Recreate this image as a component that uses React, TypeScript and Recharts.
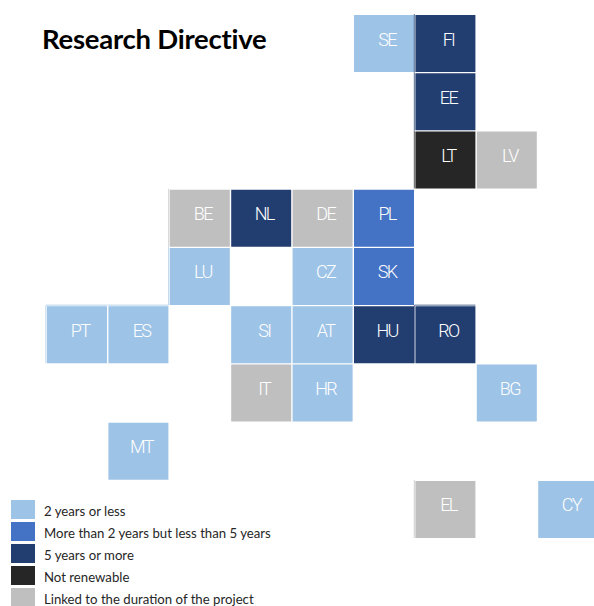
import React from 'react';
import { ScatterChart, Scatter, XAxis, YAxis } from 'recharts';

const title = 'Research Directive';
const lightNames = ['SE', 'LU', 'CZ', 'PT', 'ES', 'SI', 'AT', 'HR', 'BG', 'MT', 'CY'];
const lightCols = [5, 2, 4, 0, 1, 3, 4, 4, 7, 1, 8];
const lightRows = [0, 4, 4, 5, 5, 5, 5, 6, 6, 7, 8];
const mediumNames = ['PL', 'SK'];
const mediumCols = [5, 5];
const mediumRows = [3, 4];
const darkNames = ['FI', 'EE', 'NL', 'HU', 'RO'];
const darkCols = [6, 6, 3, 5, 6];
const darkRows = [0, 1, 3, 5, 5];
const blackNames = ['LT'];
const blackCols = [6];
const blackRows = [2];
const greyNames = ['LV', 'BE', 'DE', 'IT', 'EL'];
const greyCols = [7, 2, 4, 3, 6];
const greyRows = [2, 3, 3, 6, 8];
const leftEdged = ['FI', 'EE', 'LT', 'BE', 'LU', 'PT', 'EL', 'RO'];
const topEdged = ['PT', 'ES', 'RO'];

const zip = (names: string[], cols: number[], rows: number[]) =>
  names.map((name, i) => ({ name, col: cols[i], row: rows[i] }));

const series = [
  { label: '2 years or less', color: '#9DC3E6', data: zip(lightNames, lightCols, lightRows) },
  { label: 'More than 2 years but less than 5 years', color: '#4472C4', data: zip(mediumNames, mediumCols, mediumRows) },
  { label: '5 years or more', color: '#223E70', data: zip(darkNames, darkCols, darkRows) },
  { label: 'Not renewable', color: '#262626', data: zip(blackNames, blackCols, blackRows) },
  { label: 'Linked to the duration of the project', color: '#BFBFBF', data: zip(greyNames, greyCols, greyRows) },
];

const FONT = 'Lato, "Open Sans", sans-serif';
const TILE_FONT = 'Roboto, "Liberation Sans", sans-serif';
const CELL_W = 60;
const CELL_H = 57;

const Tile = (props: any) => {
  const { cx, cy, fill, payload } = props;
  const left = cx - CELL_W / 2;
  const top = cy - CELL_H / 2;
  return (
    <g>
      {leftEdged.includes(payload.name) && (
        <rect x={left - 1.6} y={top - 1} width={1} height={CELL_H + 1} fill={fill} opacity={0.75} />
      )}
      {topEdged.includes(payload.name) && (
        <rect x={left - 1} y={top - 1.6} width={CELL_W + 1} height={1} fill={fill} opacity={0.75} />
      )}
      <rect x={left} y={top} width={CELL_W} height={CELL_H} fill={fill} />
      <text
        x={cx + 3}
        y={cy + 2}
        textAnchor="middle"
        fill="#FFFFFF"
        fontFamily={TILE_FONT}
        fontWeight={300}
        fontSize={18}
        letterSpacing={-1.7}
      >
        {payload.name}
      </text>
    </g>
  );
};

const LegendList = () => (
  <div style={{ position: 'absolute', left: 11, top: 500, fontFamily: FONT, fontSize: 13.2, color: '#262626' }}>
    {series.map((s) => (
      <div key={s.label} style={{ position: 'relative', height: 22, whiteSpace: 'nowrap' }}>
        <span style={{ position: 'absolute', left: 0, top: 0, width: 24, height: 19, background: s.color }} />
        <span style={{ position: 'absolute', left: 33, top: 3 }}>{s.label}</span>
      </div>
    ))}
  </div>
);

export default function App() {
  return (
    <div style={{ position: 'absolute', left: 0, top: 0, width: 594, height: 606, background: '#fff', overflow: 'hidden' }}>
      <ScatterChart width={594} height={606} margin={{ top: 0, right: 0, bottom: 0, left: 0 }}>
        <XAxis type="number" dataKey="col" hide domain={[-1.254, 8.42]} allowDataOverflow />
        <YAxis type="number" dataKey="row" hide reversed domain={[-0.747, 9.657]} allowDataOverflow />
        {series.map((s) => (
          <Scatter
            key={s.label}
            name={s.label}
            data={s.data}
            fill={s.color}
            shape={Tile}
            isAnimationActive={false}
          />
        ))}
        <text x={42} y={49} fontFamily={FONT} fontWeight={700} fontSize={27.5} fill="#000" letterSpacing={-0.25}>
          {title}
        </text>
      </ScatterChart>
      <LegendList />
    </div>
  );
}
